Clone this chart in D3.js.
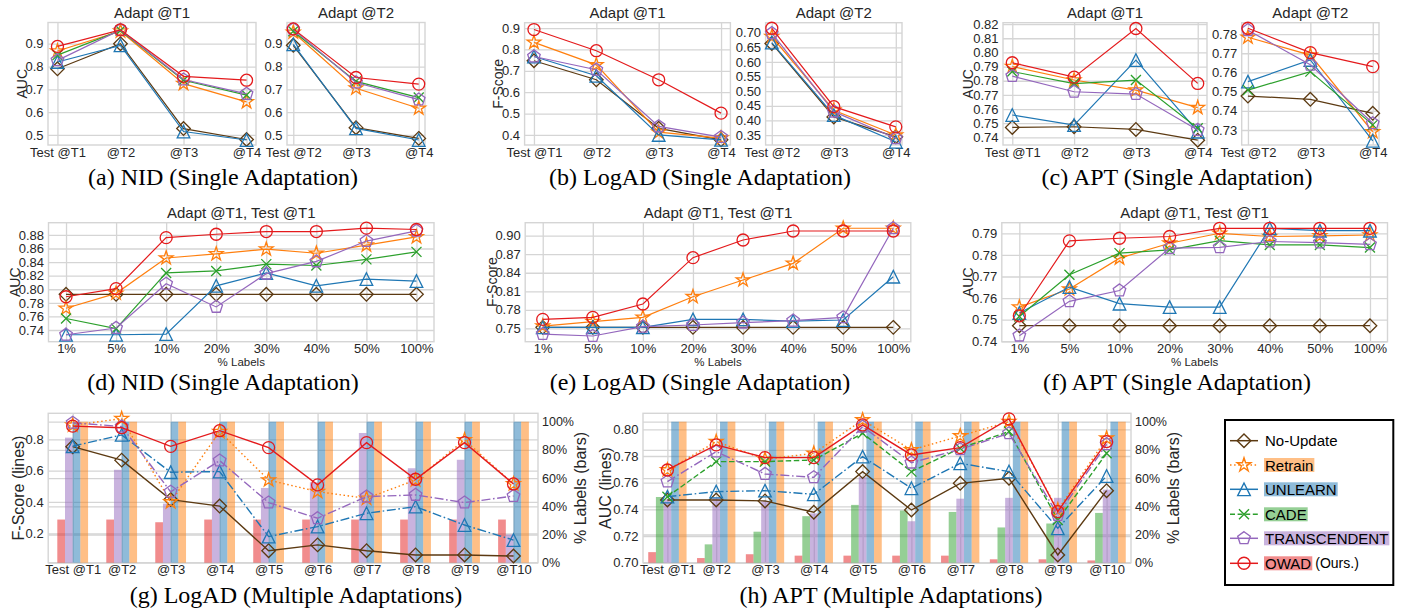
<!DOCTYPE html>
<html><head><meta charset="utf-8">
<script src="https://cdn.jsdelivr.net/npm/d3@7"></script>
<style>body{margin:0;background:#fff}svg{display:block}</style>
</head><body>
<svg id="c" width="1403" height="610"></svg>
<script>
// ---------------- data ----------------
const methods = ["No-Update","Retrain","UNLEARN","CADE","TRANSCENDENT","OWAD"];
const methodColors = ["#5c3a12","#ff7f0e","#1f77b4","#2ca02c","#9467bd","#e41a1c"];
const methodMarkers = ["diamond","star","triangle","x","pentagon","circle"];

const stepsFromT1 = ["Test @T1","@T2","@T3","@T4"];
const stepsFromT2 = ["Test @T2","@T3","@T4"];
const labelPcts = ["1%","5%","10%","20%","30%","40%","50%","100%"];
const stepsMulti = ["Test @T1","@T2","@T3","@T4","@T5","@T6","@T7","@T8","@T9","@T10"];

// (a) NID, AUC
const nidAdaptT1 = {
  "No-Update":[0.790,0.900,0.528,0.480],
  "Retrain":[0.868,0.955,0.725,0.645],
  "UNLEARN":[0.820,0.893,0.515,0.478],
  "CADE":[0.850,0.958,0.740,0.675],
  "TRANSCENDENT":[0.827,0.960,0.743,0.680],
  "OWAD":[0.888,0.961,0.757,0.740]
};
const nidAdaptT2 = {
  "No-Update":[0.893,0.532,0.485],
  "Retrain":[0.950,0.705,0.617],
  "UNLEARN":[0.897,0.529,0.478],
  "CADE":[0.955,0.735,0.664],
  "TRANSCENDENT":[0.963,0.730,0.655],
  "OWAD":[0.965,0.752,0.723]
};
// (b) LogAD, F-Score
const logadAdaptT1 = {
  "No-Update":[0.747,0.658,0.431,0.377],
  "Retrain":[0.833,0.728,0.413,0.385],
  "UNLEARN":[0.767,0.677,0.400,0.377],
  "TRANSCENDENT":[0.767,0.705,0.440,0.390],
  "OWAD":[0.893,0.794,0.658,0.502]
};
const logadAdaptT2 = {
  "No-Update":[0.663,0.412,0.344],
  "Retrain":[0.686,0.435,0.350],
  "UNLEARN":[0.666,0.418,0.327],
  "TRANSCENDENT":[0.698,0.430,0.339],
  "OWAD":[0.715,0.447,0.378]
};
// (c) APT, AUC
const aptAdaptT1 = {
  "No-Update":[0.7470,0.7475,0.7456,0.7380],
  "Retrain":[0.7900,0.7805,0.7734,0.7610],
  "UNLEARN":[0.7558,0.7487,0.7946,0.7440],
  "CADE":[0.7865,0.7780,0.7805,0.7464],
  "TRANSCENDENT":[0.7833,0.7722,0.7706,0.7452],
  "OWAD":[0.7927,0.7825,0.8169,0.7781]
};
const aptAdaptT2 = {
  "No-Update":[0.7477,0.7460,0.7387],
  "Retrain":[0.7783,0.7690,0.7291],
  "UNLEARN":[0.7552,0.7665,0.7244],
  "CADE":[0.7508,0.7604,0.7327],
  "TRANSCENDENT":[0.7820,0.7640,0.7335],
  "OWAD":[0.7830,0.7703,0.7630]
};
// (d) NID, % labels
const nidLabels = {
  "No-Update":[0.7926,0.7926,0.7926,0.7926,0.7926,0.7926,0.7926,0.7926],
  "Retrain":[0.772,0.794,0.846,0.852,0.859,0.853,0.865,0.877],
  "UNLEARN":[0.733,0.733,0.734,0.805,0.824,0.805,0.815,0.812],
  "CADE":[0.757,0.742,0.824,0.827,0.837,0.835,0.844,0.855],
  "TRANSCENDENT":[0.733,0.743,0.808,0.774,0.823,0.841,0.871,0.886],
  "OWAD":[0.789,0.801,0.876,0.881,0.885,0.885,0.890,0.888]
};
// (e) LogAD, % labels
const logadLabels = {
  "No-Update":[0.7516,0.7516,0.7516,0.7516,0.7516,0.7516,0.7516,0.7516],
  "Retrain":[0.7537,0.7608,0.7678,0.8012,0.8282,0.8552,0.912,0.912],
  "UNLEARN":[0.7516,0.7516,0.7516,0.7645,0.7645,0.7618,0.7635,0.8336],
  "TRANSCENDENT":[0.7408,0.7376,0.7527,0.7554,0.7592,0.7624,0.7678,0.912],
  "OWAD":[0.7645,0.7678,0.7894,0.8644,0.893,0.9076,0.9076,0.9076]
};
// (f) APT, % labels
const aptLabels = {
  "No-Update":[0.7472,0.7472,0.7472,0.7472,0.7472,0.7472,0.7472,0.7472],
  "Retrain":[0.7558,0.7642,0.7785,0.7854,0.7900,0.7885,0.7888,0.7892],
  "UNLEARN":[0.7531,0.7651,0.7574,0.7558,0.7558,0.7923,0.7912,0.7912],
  "CADE":[0.7515,0.7708,0.7808,0.7823,0.7866,0.7846,0.7846,0.7834],
  "TRANSCENDENT":[0.7426,0.7585,0.7635,0.7831,0.7835,0.7862,0.7857,0.7849],
  "OWAD":[0.7518,0.7865,0.7877,0.7885,0.7923,0.7923,0.7923,0.7923]
};
// (g) LogAD multiple adaptations: lines (F-Score) and bars (% labels)
const logadMulti = {
  "No-Update":[0.753,0.667,0.415,0.374,0.089,0.126,0.089,0.062,0.062,0.055],
  "Retrain":[0.890,0.932,0.400,0.849,0.540,0.466,0.423,0.540,0.796,0.515],
  "UNLEARN":[0.756,0.828,0.590,0.594,0.179,0.243,0.328,0.370,0.253,0.157],
  "TRANSCENDENT":[0.905,0.882,0.465,0.664,0.396,0.296,0.434,0.445,0.396,0.438],
  "OWAD":[0.884,0.874,0.755,0.855,0.747,0.509,0.779,0.545,0.779,0.515]
};
const logadBars = {
  "OWAD":[30.6,30.6,28.7,30.6,30.6,30.6,30.6,30.6,30.6,30.6],
  "TRANSCENDENT":[88.7,65.9,41.9,93,53,57,92,67,73,20],
  "UNLEARN":[100,100,100,100,100,100,100,100,100,100],
  "Retrain":[100,100,100,100,100,100,100,100,100,100]
};
// (h) APT multiple adaptations
const aptMulti = {
  "No-Update":[0.747,0.747,0.7463,0.7378,0.7683,0.7395,0.7595,0.7633,0.7058,0.754],
  "Retrain":[0.7695,0.7908,0.7775,0.782,0.807,0.7845,0.795,0.8058,0.7395,0.7933],
  "UNLEARN":[0.7495,0.7533,0.754,0.7513,0.7795,0.7558,0.7745,0.7683,0.7258,0.765],
  "CADE":[0.7495,0.7758,0.7758,0.777,0.797,0.7683,0.7858,0.7983,0.732,0.782],
  "TRANSCENDENT":[0.7608,0.7833,0.7665,0.764,0.802,0.775,0.785,0.797,0.7358,0.7888],
  "OWAD":[0.7695,0.7883,0.7788,0.7788,0.8033,0.7808,0.7863,0.8078,0.7383,0.7908]
};
const aptBars = {
  "OWAD":[7.5,3.3,6,5,5,5,5,2.4,2.4,1.6],
  "CADE":[46.6,13,22,33,41,37,36,25,27.8,35.3],
  "TRANSCENDENT":[45,46,43.5,35,61,29.4,45.4,46,46,51.8],
  "UNLEARN":[100,100,100,100,100,100,100,100,100,100],
  "Retrain":[100,100,100,100,100,100,100,100,100,100]
};
const pctTicks = [0,20,40,60,80,100];

// ---------------- drawing ----------------
const svg = d3.select("#c");
const SANS = "'Liberation Sans', Arial, sans-serif";
const SERIF = "'Liberation Serif', 'Times New Roman', serif";
const GRID = "#d5d5d5";
const TXT = "#262626";
const colorOf = m => methodColors[methods.indexOf(m)];
const markerOf = m => methodMarkers[methods.indexOf(m)];
const dashMulti = {"No-Update":null,"Retrain":"1.5,2.6","UNLEARN":"9,2.6,1.6,2.6","CADE":"5.5,2.6","TRANSCENDENT":"9,2.6,1.6,2.6","OWAD":null};
const dashLegend = {"No-Update":null,"Retrain":"1.5,2.6","UNLEARN":null,"CADE":"5,2.6","TRANSCENDENT":null,"OWAD":null};

function markerPath(kind) {
  const p = d3.path();
  if (kind === "circle") { p.arc(0,0,6,0,2*Math.PI); p.closePath(); }
  else if (kind === "diamond") { const d=6.8; p.moveTo(0,-d); p.lineTo(d,0); p.lineTo(0,d); p.lineTo(-d,0); p.closePath(); }
  else if (kind === "triangle") { const h=6.3; p.moveTo(0,-h); p.lineTo(h,h); p.lineTo(-h,h); p.closePath(); }
  else if (kind === "x") { const h=5; p.moveTo(-h,-h); p.lineTo(h,h); p.moveTo(-h,h); p.lineTo(h,-h); }
  else if (kind === "pentagon") { const R=6.6; for (let k=0;k<5;k++){const a=-Math.PI/2+k*2*Math.PI/5; const px=R*Math.cos(a), py=R*Math.sin(a); k?p.lineTo(px,py):p.moveTo(px,py);} p.closePath(); }
  else if (kind === "star") { const R=7.2, r=R*0.382; for (let k=0;k<10;k++){const a=-Math.PI/2+k*Math.PI/5; const rr=k%2?r:R; const px=rr*Math.cos(a), py=rr*Math.sin(a); k?p.lineTo(px,py):p.moveTo(px,py);} p.closePath(); }
  return p.toString();
}

function styleAxis(sel, fs) {
  sel.select(".domain").remove();
  sel.selectAll("line").attr("stroke", GRID).attr("stroke-width", 1.3);
  sel.selectAll("text").attr("font-family", SANS).attr("font-size", fs).attr("fill", TXT);
}

function drawPanel(cfg) {
  const [x0,y0,x1,y1] = cfg.box;
  const fs = cfg.fs || 13;
  const x = d3.scalePoint().domain(cfg.cats).range([x0,x1]).padding(cfg.pad);
  const y = d3.scaleLinear().domain(cfg.ydom).range([y1,y0]);
  const g = svg.append("g");
  g.append("rect").attr("x",x0).attr("y",y0).attr("width",x1-x0).attr("height",y1-y0).attr("fill","#fff");
  g.append("g").attr("transform",`translate(${x0},0)`)
    .call(d3.axisLeft(y).tickValues(cfg.yticks).tickFormat(d3.format(cfg.fmt)).tickSize(-(x1-x0)).tickPadding(4.5))
    .call(s=>styleAxis(s,fs));
  let yR = null;
  if (cfg.bars) {
    yR = d3.scaleLinear().domain(cfg.rdom).range([y1,y0]);
    g.append("g").attr("transform",`translate(${x1},0)`)
      .call(d3.axisRight(yR).tickValues(pctTicks).tickFormat(d=>d+"%").tickSize(-(x1-x0)).tickPadding(4))
      .call(s=>styleAxis(s,12.5));
  }
  g.append("g").attr("transform",`translate(0,${y1})`)
    .call(d3.axisBottom(x).tickSize(-(y1-y0)).tickPadding(cfg.xpad || 3))
    .call(s=>styleAxis(s,fs));
  g.append("rect").attr("x",x0).attr("y",y0).attr("width",x1-x0).attr("height",y1-y0)
    .attr("fill","none").attr("stroke",GRID).attr("stroke-width",1.4);

  // bars
  if (cfg.bars) {
    const step = x.step();
    const w = 0.157*step;
    cfg.barOrder.forEach((m,i)=>{
      const off = (i - cfg.barOrder.length/2)*w;
      g.append("g").selectAll("rect").data(cfg.bars[m]).join("rect")
        .attr("x",(d,j)=>x(cfg.cats[j])+off).attr("width",w)
        .attr("y",d=>yR(d)).attr("height",d=>y1-yR(d))
        .attr("fill",colorOf(m)).attr("fill-opacity",0.5);
    });
  }

  // lines + markers
  const line = d3.line().x((d,j)=>x(cfg.cats[j])).y(d=>y(d));
  methods.forEach(m=>{
    const vals = cfg.data[m];
    if (!vals) return;
    const c = colorOf(m);
    const gl = g.append("g");
    gl.append("path").datum(vals).attr("d",line).attr("fill","none")
      .attr("stroke",c).attr("stroke-width",cfg.lw || 1.2)
      .attr("stroke-dasharray", cfg.dashes ? cfg.dashes[m] : null);
    gl.selectAll("path.mk").data(vals).join("path").attr("class","mk")
      .attr("transform",(d,j)=>`translate(${x(cfg.cats[j])},${y(d)})`)
      .attr("d",markerPath(markerOf(m))).attr("fill","none")
      .attr("stroke",c).attr("stroke-width",1.3);
  });

  if (cfg.title) g.append("text").attr("x",(x0+x1)/2).attr("y",y0-5).attr("text-anchor","middle")
    .attr("font-family",SANS).attr("font-size",15).attr("fill",TXT).text(cfg.title);
  if (cfg.xlabel) g.append("text").attr("x",(x0+x1)/2).attr("y",366).attr("text-anchor","middle")
    .attr("font-family",SANS).attr("font-size",11.5).attr("fill",TXT).text(cfg.xlabel);
  if (cfg.ylabel) g.append("text").attr("transform",`translate(${cfg.ylabelX},${(y0+y1)/2}) rotate(-90)`)
    .attr("text-anchor","middle").attr("dominant-baseline","central")
    .attr("font-family",SANS).attr("font-size",cfg.ylfs || 14).attr("fill",TXT).text(cfg.ylabel);
  if (cfg.rlabel) g.append("text").attr("transform",`translate(${cfg.rlabelX},${(y0+y1)/2}) rotate(-90)`)
    .attr("text-anchor","middle").attr("dominant-baseline","central")
    .attr("font-family",SANS).attr("font-size",cfg.ylfs || 14).attr("fill",TXT).text(cfg.rlabel);
}

function caption(text, cx, by) {
  svg.append("text").attr("x",cx).attr("y",by).attr("text-anchor","middle")
    .attr("font-family",SERIF).attr("font-size",24).attr("fill","#000").text(text);
}

// Row 1
drawPanel({data:nidAdaptT1, cats:stepsFromT1, box:[48,22.5,256,145], pad:0.15, ydom:[0.456,0.993], yticks:[0.5,0.6,0.7,0.8,0.9], fmt:".1f", title:"Adapt @T1", ylabel:"AUC", ylabelX:22});
drawPanel({data:nidAdaptT2, cats:stepsFromT2, box:[287,22.5,425,145], pad:0.1, ydom:[0.456,0.993], yticks:[0.5,0.6,0.7,0.8,0.9], fmt:".1f", title:"Adapt @T2"});
caption("(a) NID (Single Adaptation)", 223, 185);

drawPanel({data:logadAdaptT1, cats:stepsFromT1, box:[524.6,22.7,730.4,145], pad:0.15, ydom:[0.353,0.925], yticks:[0.4,0.5,0.6,0.7,0.8,0.9], fmt:".1f", title:"Adapt @T1", ylabel:"F-Score", ylabelX:498});
drawPanel({data:logadAdaptT2, cats:stepsFromT2, box:[765.6,22.7,902,145], pad:0.1, ydom:[0.316,0.734], yticks:[0.35,0.40,0.45,0.50,0.55,0.60,0.65,0.70], fmt:".2f", title:"Adapt @T2"});
caption("(b) LogAD (Single Adaptation)", 700, 185);

drawPanel({data:aptAdaptT1, cats:stepsFromT1, box:[1003,22.7,1207,145], pad:0.15, ydom:[0.7346,0.821], yticks:[0.74,0.75,0.76,0.77,0.78,0.79,0.80,0.81,0.82], fmt:".2f", title:"Adapt @T1", ylabel:"AUC", ylabelX:968});
drawPanel({data:aptAdaptT2, cats:stepsFromT2, box:[1241.7,22.7,1379,145], pad:0.1, ydom:[0.7222,0.7859], yticks:[0.73,0.74,0.75,0.76,0.77,0.78], fmt:".2f", title:"Adapt @T2"});
caption("(c) APT (Single Adaptation)", 1177, 185);

// Row 2
drawPanel({data:nidLabels, cats:labelPcts, box:[48.5,222.7,434,341.7], pad:0.35, xpad:1.8, ydom:[0.7228,0.898], yticks:[0.74,0.76,0.78,0.80,0.82,0.84,0.86,0.88], fmt:".2f", title:"Adapt @T1, Test @T1", xlabel:"% Labels", ylabel:"AUC", ylabelX:15});
caption("(d) NID (Single Adaptation)", 223, 390);
drawPanel({data:logadLabels, cats:labelPcts, box:[525.2,222.7,910.8,341.7], pad:0.35, xpad:1.8, ydom:[0.7284,0.921], yticks:[0.75,0.78,0.81,0.84,0.87,0.90], fmt:".2f", title:"Adapt @T1, Test @T1", xlabel:"% Labels", ylabel:"F-Score", ylabelX:492});
caption("(e) LogAD (Single Adaptation)", 700, 390);
drawPanel({data:aptLabels, cats:labelPcts, box:[1001.8,222.7,1387.5,341.7], pad:0.35, xpad:1.8, ydom:[0.7398,0.7949], yticks:[0.74,0.75,0.76,0.77,0.78,0.79], fmt:".2f", title:"Adapt @T1, Test @T1", xlabel:"% Labels", ylabel:"AUC", ylabelX:968});
caption("(f) APT (Single Adaptation)", 1177, 390);

// Row 3
drawPanel({data:logadMulti, cats:stepsMulti, box:[48.2,413.3,538,562.7], pad:0.5, ydom:[0.0124,0.966], yticks:[0.2,0.4,0.6,0.8], fmt:".1f",
  bars:logadBars, barOrder:["OWAD","TRANSCENDENT","UNLEARN","Retrain"], rdom:[0,105.96], dashes:dashMulti, lw:1.4, xpad:2.5,
  ylabel:"F-Score (lines)", ylabelX:18, rlabel:"% Labels (bars)", rlabelX:580, ylfs:16});
caption("(g) LogAD (Multiple Adaptations)", 296, 603);
drawPanel({data:aptMulti, cats:stepsMulti, box:[643,413.3,1131,562.7], pad:0.5, ydom:[0.70,0.812], yticks:[0.70,0.72,0.74,0.76,0.78,0.80], fmt:".2f",
  bars:aptBars, barOrder:["OWAD","CADE","TRANSCENDENT","UNLEARN","Retrain"], rdom:[0,105.96], dashes:dashMulti, lw:1.4, xpad:2.5,
  ylabel:"AUC (lines)", ylabelX:605, rlabel:"% Labels (bars)", rlabelX:1173, ylfs:16});
caption("(h) APT (Multiple Adaptations)", 891, 603);

// Legend
const legendRows = [440.7,465,489.3,514.3,538.3,563.3];
const lg = svg.append("g");
lg.append("rect").attr("x",1225).attr("y",420).attr("width",168.3).attr("height",165)
  .attr("fill","#fff").attr("stroke","#000").attr("stroke-width",2);
methods.forEach((m,i)=>{
  const yy = legendRows[i], c = colorOf(m);
  lg.append("line").attr("x1",1230).attr("x2",1258).attr("y1",yy).attr("y2",yy)
    .attr("stroke",c).attr("stroke-width",1.5).attr("stroke-dasharray",dashLegend[m]);
  lg.append("path").attr("transform",`translate(1244,${yy})`).attr("d",markerPath(markerOf(m)))
    .attr("fill","none").attr("stroke",c).attr("stroke-width",1.4);
  const bg = lg.append("rect");
  const t = lg.append("text").attr("x",1265).attr("y",yy).attr("dominant-baseline","central")
    .attr("font-family",SANS).attr("font-size",15).attr("fill","#000").text(m);
  if (m !== "No-Update") {
    const bb = t.node().getBBox();
    bg.attr("x",bb.x-1).attr("y",yy-7).attr("width",bb.width+2).attr("height",14)
      .attr("fill",c).attr("fill-opacity",0.5);
  }
  if (m === "OWAD") {
    const bb = t.node().getBBox();
    lg.append("text").attr("x",bb.x+bb.width+4).attr("y",yy).attr("dominant-baseline","central")
      .attr("font-family",SANS).attr("font-size",14).attr("fill","#000").text("(Ours.)");
  }
});
</script>
</body></html>
